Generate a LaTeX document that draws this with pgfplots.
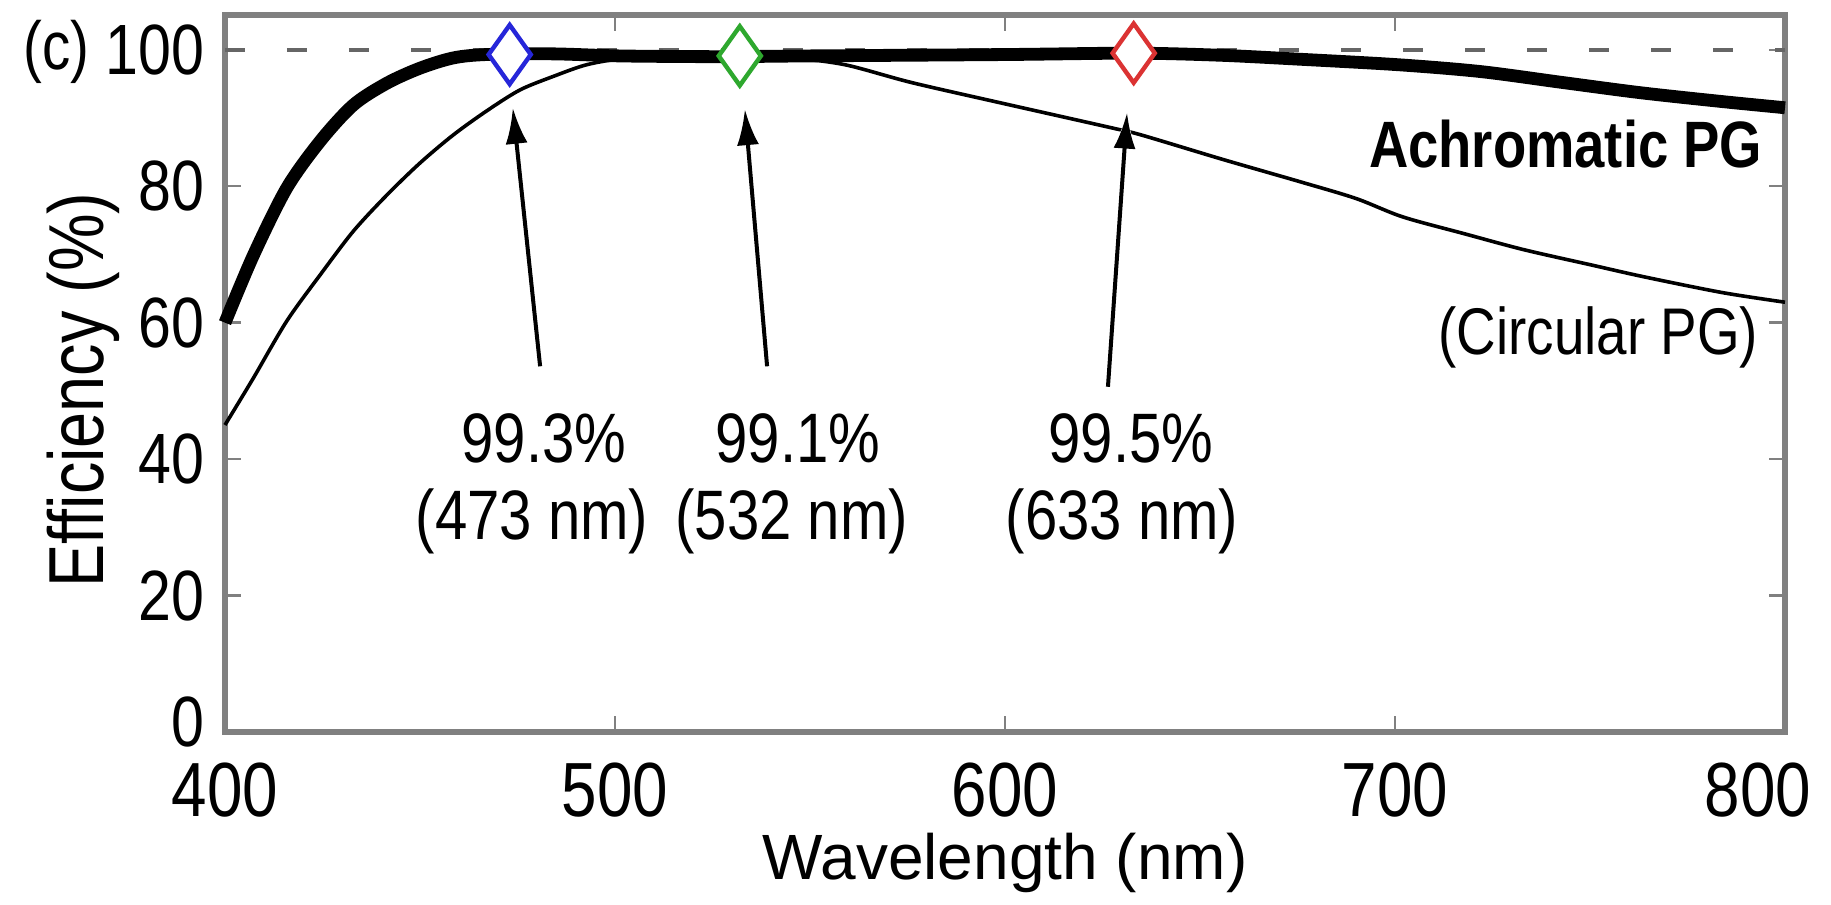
\documentclass[border=0pt]{standalone}
\usepackage{fontspec}
\setmainfont{Liberation Sans}[FakeStretch=0.83]
\newfontfamily\xlfont{Liberation Sans}
\usepackage{pgfplots}
\pgfplotsset{compat=1.18}
\usetikzlibrary{arrows.meta}
\definecolor{framec}{gray}{0.5}
\definecolor{dashc}{gray}{0.4}
\definecolor{mblue}{rgb}{0.15,0.15,0.85}
\definecolor{mgreen}{rgb}{0.18,0.66,0.18}
\definecolor{mred}{rgb}{0.86,0.2,0.2}
\newcommand{\af}{\fontsize{17.5}{20}\selectfont}
\tikzset{pgarrow/.style={black, line width=1pt, -{Latex[length=9pt,width=5.5pt]},
  preaction={draw=white, line width=3.5pt, -{Latex[length=10.5pt,width=8pt]}}}}
\begin{document}
\begin{tikzpicture}
\path[use as bounding box] (-56.25pt,-43.25pt) rectangle (401.5pt,183pt);
\begin{axis}[
  at={(0,0)}, anchor=south west,
  scale only axis, width=390pt, height=179.25pt,
  xmin=400, xmax=800, ymin=0, ymax=105.1,
  xtick={400,500,600,700},
  extra x ticks={800},
  extra x tick style={xticklabel style={xshift=-6.75pt}},
  ytick={20,40,60,80,100},
  extra y ticks={0},
  extra y tick style={yticklabel style={yshift=2.5pt}},
  tick align=inside,
  major tick length=4pt,
  axis line style={framec, line width=1.3pt},
  tick style={framec, line width=0.6pt},
  /pgf/number format/assume math mode=true,
  xticklabel style={font=\fontsize{19.2}{22}\selectfont, anchor=north, inner sep=0pt, yshift=-7.5pt},
  yticklabel style={font=\fontsize{17.8}{20}\selectfont, anchor=east, inner sep=0pt, xshift=-5pt},
  xlabel={Wavelength (nm)},
  ylabel={Efficiency (\%)},
  xlabel style={font=\xlfont\fontsize{16}{19}\selectfont, at={(axis description cs:0.5,0)}, anchor=base, yshift=-37pt, inner sep=0pt},
  ylabel style={font=\fontsize{19.5}{22}\selectfont, at={(axis description cs:-0.0782,0.477)}, anchor=base, inner sep=0pt},
  clip=false,
]
% reference line at 100 %
\addplot[dashc, line width=1pt, dash pattern=on 5pt off 10.5pt] coordinates {(400,100) (800,100)};

% Circular PG (thin)
\addplot[black, line width=0.9pt, smooth, tension=0.5] coordinates {
(400,45.0) (407.3,51.9) (415.8,60.2) (424.4,67.0) (432.9,73.4) (441.5,78.7)
(450,83.4) (458.5,87.5) (467,91.0) (475.6,94.1) (484.2,96.1) (492.7,97.8)
(502,98.7) (515,99.0) (530,99.0) (545,98.8) (559,97.8) (576,95.2) (599,92.2)
(627,88.6) (635,87.5) (656,83.9) (676,80.6) (690,78.2) (702,75.5) (718,73.0)
(733,70.7) (750,68.5) (764,66.7) (784,64.4) (800,63.0)
};

% Achromatic PG (thick)
\addplot[black, line width=3.2pt, smooth, tension=0.5, line join=round] coordinates {
(400,60.0) (407.3,69.9) (415.8,79.7) (424.4,86.6) (432.9,91.9) (441.5,95.1)
(450,97.3) (458.5,98.8) (467,99.3) (484,99.4) (501,99.1) (520,99.0) (532,99.0)
(550,99.1) (600,99.3) (633,99.5) (655,99.2) (676,98.6) (701,97.8) (722,96.8)
(743,95.2) (763,93.7) (784,92.4) (800,91.5)
};

% markers
\addplot[only marks, mark=diamond*, mark size=7.4pt,
  mark options={xscale=0.95, draw=mblue, fill=white, line width=1.1pt}] coordinates {(473,99.3)};
\addplot[only marks, mark=diamond*, mark size=7.4pt,
  mark options={xscale=0.95, draw=mgreen, fill=white, line width=1.1pt}] coordinates {(532,99.1)};
\addplot[only marks, mark=diamond*, mark size=7.4pt,
  mark options={xscale=0.95, draw=mred, fill=white, line width=1.1pt}] coordinates {(633,99.5)};

% arrows
\draw[pgarrow] (axis cs:480.8,53.6) -- (axis cs:473.8,91.5);
\draw[pgarrow] (axis cs:539.0,53.6) -- (axis cs:533.3,91.3);
\draw[pgarrow] (axis cs:626.4,50.6) -- (axis cs:631.3,90.8);

% annotation texts
\node[anchor=base, inner sep=0pt, font=\af] at (axis cs:481.8,39.44) {99.3\%};
\node[anchor=base, inner sep=0pt, font=\af] at (axis cs:478.7,28.15) {(473 nm)};
\node[anchor=base, inner sep=0pt, font=\af] at (axis cs:546.9,39.44) {99.1\%};
\node[anchor=base, inner sep=0pt, font=\af] at (axis cs:545.3,28.15) {(532 nm)};
\node[anchor=base, inner sep=0pt, font=\af] at (axis cs:632.3,39.44) {99.5\%};
\node[anchor=base, inner sep=0pt, font=\af] at (axis cs:630.0,28.15) {(633 nm)};

\node[anchor=base east, inner sep=0pt, font=\fontsize{16.4}{19}\selectfont\bfseries] at (axis cs:794.4,82.8) {Achromatic PG};
\node[anchor=base east, inner sep=0pt, font=\fontsize{16.5}{19}\selectfont] at (axis cs:793.3,55.3) {(Circular PG)};
\node[anchor=base east, inner sep=0pt, font=\fontsize{17}{20}\selectfont] at (axis cs:365.4,97.07) {(c)};
\end{axis}
\end{tikzpicture}
\end{document}
